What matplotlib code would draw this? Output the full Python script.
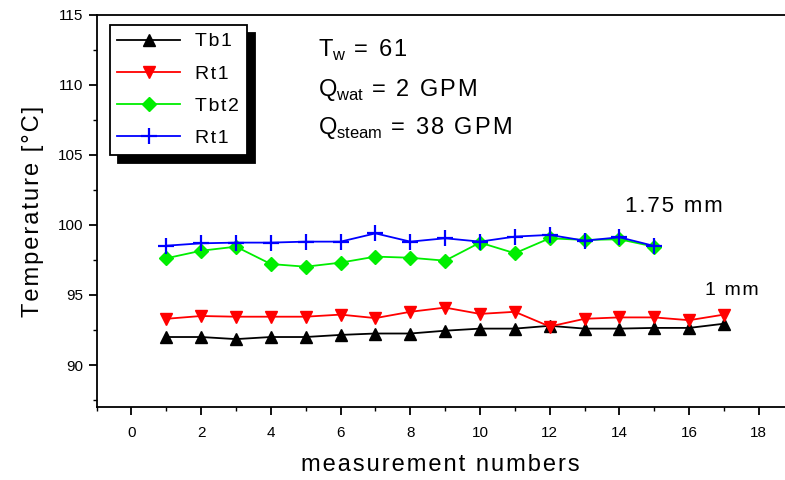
import numpy as np
import matplotlib.pyplot as plt

plt.rcParams['font.family'] = ['Liberation Sans', 'DejaVu Sans']
plt.rcParams['mathtext.fontset'] = 'custom'
plt.rcParams['mathtext.rm'] = 'Liberation Sans'

# measurement numbers
x_long = np.arange(1, 18)
x_short = np.arange(1, 16)

# 1 mm series
tb1 = [92.0, 92.0, 91.85, 92.0, 92.0, 92.15, 92.25, 92.25, 92.45, 92.6,
       92.6, 92.8, 92.6, 92.6, 92.65, 92.65, 92.95]
rt1_a = [93.3, 93.5, 93.45, 93.45, 93.45, 93.6, 93.35, 93.8, 94.1, 93.65,
         93.8, 92.75, 93.3, 93.4, 93.4, 93.2, 93.6]

# 1.75 mm series
tbt2 = [97.62, 98.16, 98.45, 97.21, 97.02, 97.31, 97.74, 97.66, 97.45, 98.74,
        97.98, 99.05, 98.93, 98.98, 98.45]
rt1_b = [98.52, 98.69, 98.74, 98.74, 98.81, 98.81, 99.4, 98.81, 99.05, 98.81,
         99.17, 99.29, 98.88, 99.12, 98.5]

labels = ["Tb1", "Rt1", "Tbt2", "Rt1"]


def spaced(s):
    # wide letter spacing like the original plot
    return "\u200a".join(s)


fig = plt.figure(figsize=(7.85, 4.8), dpi=100)
ax = fig.add_axes([0.123, 0.152, 0.877, 0.817])

ax.plot(x_long, tb1, color="black", marker="^", markersize=9, lw=1.3, label=spaced(labels[0]))
ax.plot(x_long, rt1_a, color="red", marker="v", markersize=9, lw=1.3, label=spaced(labels[1]))
ax.plot(x_short, tbt2, color="#00ee00", marker="D", markersize=7, lw=1.3, label=spaced(labels[2]))
ax.plot(x_short, rt1_b, color="blue", marker="+", markersize=11, mew=1.6, lw=1.3, label=spaced(labels[3]))

ax.set_xlim(-1, 18.75)
ax.set_ylim(87, 115)
ax.set_xticks(range(0, 19, 2))
ax.set_xticks(range(-1, 19), minor=True)
ax.set_yticks(range(90, 116, 5))
ax.set_yticks(np.arange(87.5, 115, 2.5), minor=True)
ax.tick_params(which="both", direction="out", labelsize=11)
ax.tick_params(axis="x", pad=8)
ax.tick_params(which="major", length=6, width=1.3)
ax.tick_params(which="minor", length=3, width=1.0)
ax.spines["right"].set_visible(False)
for s in ["left", "bottom", "top"]:
    ax.spines[s].set_linewidth(1.3)

ax.set_xlabel(spaced("measurement numbers"), fontsize=17, labelpad=10)
ax.set_ylabel(spaced("Temperature [°C]"), fontsize=17, labelpad=10)

ax.text(0.322, 0.892, r"T$_{\mathregular{w}}$" + spaced(" = 61"),
        transform=ax.transAxes, fontsize=17)
ax.text(0.322, 0.794, r"Q$_{\mathregular{wat}}$" + spaced(" = 2 GPM"),
        transform=ax.transAxes, fontsize=17)
ax.text(0.322, 0.696, r"Q$_{\mathregular{steam}}$" + spaced(" = 38 GPM"),
        transform=ax.transAxes, fontsize=17)
ax.text(14.15, 100.9, spaced("1.75 mm"), fontsize=16)
ax.text(16.45, 95.0, spaced("1 mm"), fontsize=14)

leg = ax.legend(loc="upper left", bbox_to_anchor=(0.019, 0.974), borderaxespad=0,
                fontsize=14, labelspacing=0.75, fancybox=False,
                shadow={"color": "black", "alpha": 1, "ox": 6, "oy": -6},
                edgecolor="black", framealpha=1, handlelength=3.2)
leg.get_frame().set_linewidth(1.3)

plt.savefig("out.png", dpi=100)
